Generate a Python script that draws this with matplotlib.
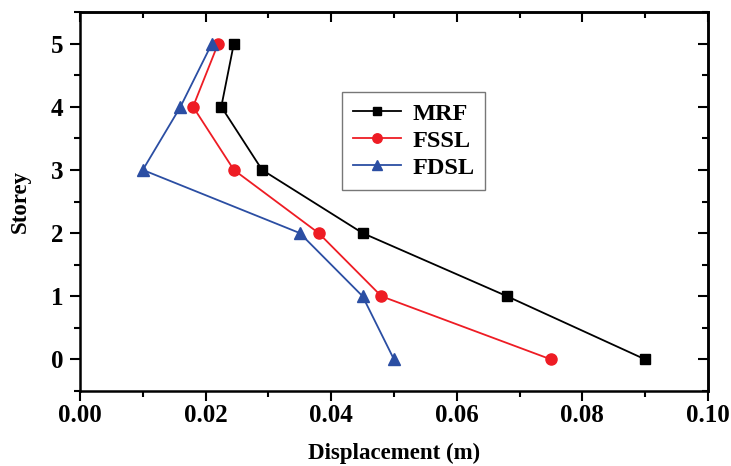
import matplotlib.pyplot as plt
from matplotlib.ticker import MultipleLocator

plt.rcParams['font.family'] = 'Liberation Serif'
plt.rcParams['font.weight'] = 'bold'

storey = [0, 1, 2, 3, 4, 5]
mrf = [0.090, 0.068, 0.045, 0.029, 0.0225, 0.0245]
fssl = [0.075, 0.048, 0.038, 0.0245, 0.018, 0.022]
fdsl = [0.050, 0.045, 0.035, 0.010, 0.016, 0.021]

fig = plt.figure(figsize=(7.31, 4.66), dpi=100)
ax = fig.add_axes([80 / 731, 75 / 466, 628 / 731, 379 / 466])

ax.plot(mrf, storey, color='black', marker='s', markersize=7, lw=1.3, label='MRF')
ax.plot(fssl, storey, color='#ee1c24', marker='o', markersize=8, lw=1.3, label='FSSL')
ax.plot(fdsl, storey, color='#2b4ea3', marker='^', markersize=8, lw=1.3, label='FDSL')

ax.set_xlim(0, 0.10)
ax.set_ylim(-0.5, 5.5)
ax.xaxis.set_major_locator(MultipleLocator(0.02))
ax.xaxis.set_minor_locator(MultipleLocator(0.01))
ax.yaxis.set_major_locator(MultipleLocator(1))
ax.yaxis.set_minor_locator(MultipleLocator(0.5))
ax.xaxis.set_major_formatter(plt.FuncFormatter(lambda v, p: f'{v:.2f}'))

# bottom/left ticks point out, top/right ticks point in
ax.tick_params(which='both', direction='out', width=1.5)
ax.tick_params(which='major', length=7, labelsize=18)
ax.tick_params(which='minor', length=4)
ax.tick_params(axis='x', which='major', pad=2)
ax.tick_params(axis='y', which='major', pad=5)

top = ax.secondary_xaxis('top')
top.xaxis.set_major_locator(MultipleLocator(0.02))
top.xaxis.set_minor_locator(MultipleLocator(0.01))
top.tick_params(which='both', direction='in', labeltop=False, width=1.5)
top.tick_params(which='major', length=7)
top.tick_params(which='minor', length=4)

right = ax.secondary_yaxis('right')
right.yaxis.set_major_locator(MultipleLocator(1))
right.yaxis.set_minor_locator(MultipleLocator(0.5))
right.tick_params(which='both', direction='in', labelright=False, width=1.5)
right.tick_params(which='major', length=7)
right.tick_params(which='minor', length=4)

for s in ax.spines.values():
    s.set_linewidth(1.8)
top.spines['top'].set_linewidth(1.8)
right.spines['right'].set_linewidth(1.8)

ax.set_xlabel('Displacement (m)', fontsize=16.5, fontweight='bold', labelpad=12)
ax.set_ylabel('Storey', fontsize=16.5, fontweight='bold', labelpad=14)

leg = ax.legend(loc='upper left', bbox_to_anchor=(0.417, 0.789), fontsize=17.5,
                fancybox=False, edgecolor='#555555', handlelength=2.0,
                borderpad=0.45, labelspacing=0.2, handletextpad=0.45,
                borderaxespad=0, markerscale=0.85)
leg.get_frame().set_linewidth(1.0)

fig.savefig('out.png', dpi=100)
